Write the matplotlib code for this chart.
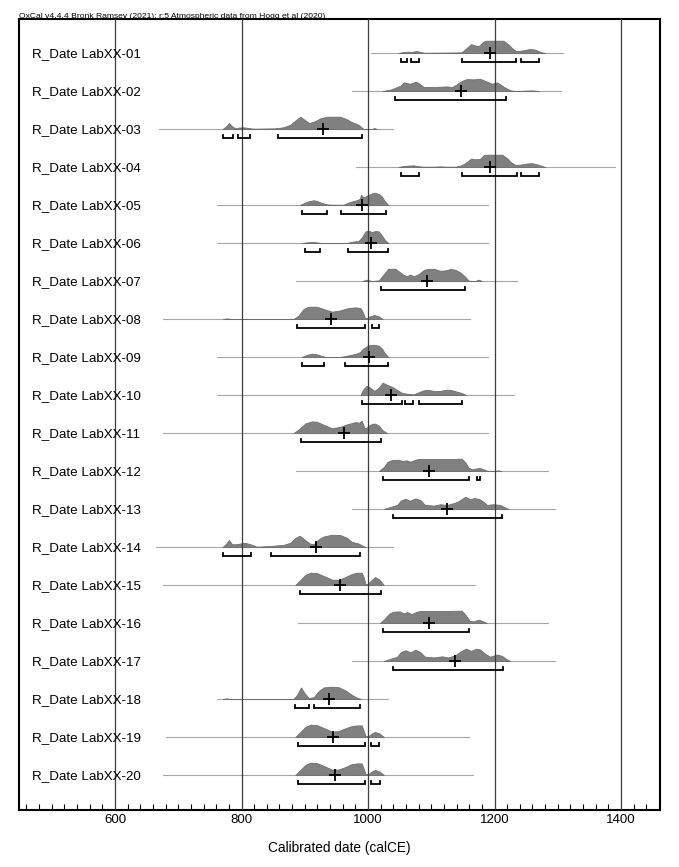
import matplotlib
matplotlib.use("Agg")
import matplotlib.pyplot as plt
import numpy as np
from matplotlib.ticker import MultipleLocator

plt.rcParams["font.family"] = ["Liberation Sans", "DejaVu Sans"]

title = "OxCal v4.4.4 Bronk Ramsey (2021); r:5 Atmospheric data from Hogg et al (2020)"
xlabel = "Calibrated date (calCE)"

labels = ["R_Date LabXX-01", "R_Date LabXX-02", "R_Date LabXX-03", "R_Date LabXX-04",
          "R_Date LabXX-05", "R_Date LabXX-06", "R_Date LabXX-07", "R_Date LabXX-08",
          "R_Date LabXX-09", "R_Date LabXX-10", "R_Date LabXX-11", "R_Date LabXX-12",
          "R_Date LabXX-13", "R_Date LabXX-14", "R_Date LabXX-15", "R_Date LabXX-16",
          "R_Date LabXX-17", "R_Date LabXX-18", "R_Date LabXX-19", "R_Date LabXX-20"]

# extent of the thin baseline (calibration range shown) for each date
span_start = [1005, 975, 670, 981, 761, 761, 886, 676, 761, 761,
              676, 886, 975, 665, 676, 890, 975, 761, 680, 676]
span_end = [1309, 1305, 1040, 1390, 1190, 1190, 1235, 1161, 1190, 1230,
            1190, 1285, 1295, 1040, 1169, 1285, 1295, 1031, 1160, 1166]

# mean of each distribution (the + sign)
means = [1193, 1147, 929, 1193, 991, 1005, 1093, 942, 1001, 1037,
         962, 1097, 1125, 917, 956, 1097, 1137, 939, 944, 947]

# 95.4% hpd ranges
hpd = [
    [(1052, 1061), (1068, 1080), (1149, 1234), (1242, 1270)],
    [(1042, 1218)],
    [(771, 787), (794, 813), (858, 991)],
    [(1052, 1081), (1148, 1235), (1242, 1270)],
    [(896, 935), (958, 1028)],
    [(901, 924), (968, 1031)],
    [(1021, 1153)],
    [(888, 996), (1007, 1018)],
    [(896, 930), (963, 1031)],
    [(990, 1054), (1059, 1071), (1080, 1149)],
    [(894, 1021)],
    [(1024, 1159), (1173, 1177)],
    [(1040, 1212)],
    [(771, 815), (847, 988)],
    [(892, 1020)],
    [(1024, 1159)],
    [(1040, 1214)],
    [(884, 906), (915, 987)],
    [(890, 995), (1005, 1017)],
    [(890, 995), (1004, 1019)],
]

# posterior probability curves (year, relative density)
curve_years = [
    [1048, 1056, 1064, 1069, 1076, 1081, 1088, 1106, 1148, 1156, 1163, 1169, 1175, 1182, 1187, 1214, 1222, 1228, 1234, 1242, 1249, 1256, 1264, 1273, 1280],
    [1022, 1035, 1046, 1052, 1056, 1061, 1067, 1075, 1080, 1088, 1104, 1114, 1125, 1133, 1140, 1148, 1156, 1167, 1177, 1183, 1191, 1196, 1204, 1209, 1217, 1225, 1235, 1246, 1259, 1270],
    [770, 776, 780, 785, 790, 795, 803, 811, 819, 853, 866, 877, 885, 893, 899, 907, 916, 924, 935, 956, 966, 974, 985, 993, 1006, 1010, 1014],
    [1048, 1056, 1064, 1072, 1077, 1087, 1104, 1114, 1125, 1138, 1148, 1156, 1163, 1169, 1177, 1183, 1188, 1212, 1220, 1225, 1233, 1241, 1251, 1259, 1267, 1275, 1280],
    [892, 898, 906, 914, 919, 927, 935, 943, 961, 969, 977, 982, 987, 989, 993, 998, 1006, 1011, 1017, 1022, 1027, 1032],
    [895, 903, 911, 919, 927, 967, 972, 980, 985, 990, 996, 1001, 1006, 1011, 1017, 1022, 1027, 1032],
    [991, 998, 1006, 1017, 1025, 1032, 1043, 1051, 1056, 1061, 1067, 1072, 1080, 1088, 1093, 1104, 1114, 1122, 1130, 1138, 1146, 1154, 1159, 1169, 1175, 1180],
    [771, 777, 784, 882, 890, 898, 906, 919, 930, 943, 956, 969, 980, 988, 992, 995, 998, 1003, 1010, 1017, 1023],
    [895, 903, 911, 919, 927, 934, 956, 964, 972, 980, 987, 993, 1001, 1009, 1017, 1022, 1027, 1032],
    [988, 993, 998, 1003, 1010, 1017, 1023, 1030, 1038, 1046, 1054, 1061, 1072, 1080, 1088, 1096, 1104, 1114, 1125, 1133, 1140, 1148, 1155],
    [882, 890, 901, 911, 919, 930, 943, 956, 964, 972, 980, 986, 990, 994, 997, 1003, 1010, 1017, 1023, 1030],
    [1017, 1025, 1031, 1038, 1048, 1054, 1061, 1067, 1075, 1080, 1109, 1130, 1148, 1154, 1159, 1164, 1172, 1177, 1183, 1188, 1198, 1206, 1210],
    [1025, 1035, 1046, 1052, 1059, 1066, 1075, 1083, 1090, 1104, 1114, 1125, 1135, 1143, 1154, 1162, 1167, 1175, 1182, 1188, 1198, 1209, 1215, 1222],
    [770, 776, 780, 785, 792, 798, 806, 814, 824, 835, 851, 866, 877, 885, 892, 899, 908, 914, 922, 930, 943, 956, 967, 974, 985, 992, 996],
    [885, 893, 901, 909, 919, 930, 943, 953, 964, 974, 982, 990, 993, 996, 999, 1006, 1011, 1018, 1025],
    [1019, 1027, 1034, 1040, 1050, 1056, 1062, 1069, 1077, 1083, 1114, 1148, 1154, 1161, 1167, 1175, 1183, 1188],
    [1025, 1035, 1046, 1052, 1059, 1067, 1075, 1083, 1090, 1104, 1117, 1127, 1138, 1146, 1155, 1163, 1171, 1177, 1185, 1193, 1204, 1212, 1218, 1225],
    [771, 776, 781, 882, 888, 894, 899, 906, 914, 922, 930, 943, 953, 964, 974, 982, 989],
    [885, 893, 901, 909, 919, 930, 943, 953, 964, 974, 982, 990, 993, 996, 1001, 1006, 1011, 1018, 1025],
    [885, 893, 901, 909, 919, 930, 943, 953, 964, 974, 982, 990, 993, 996, 1001, 1006, 1011, 1018, 1025],
]
curve_dens = [
    [0, 3, 4, 3, 6, 4, 1, 1, 2, 15, 26, 22, 20, 33, 36, 36, 25, 14, 6, 7, 9, 12, 10, 3, 0],
    [0, 4, 12, 17, 26, 24, 22, 28, 24, 12, 12, 13, 14, 12, 20, 30, 36, 35, 37, 32, 26, 22, 26, 20, 10, 2, 0, 1, 2, 0],
    [0, 8, 17, 8, 2, 4, 5, 3, 1, 2, 5, 12, 24, 35, 27, 17, 22, 30, 35, 35, 28, 20, 12, 0, 0, 3, 0],
    [0, 3, 4, 5, 3, 1, 1, 2, 1, 1, 5, 14, 24, 22, 23, 34, 35, 35, 25, 15, 6, 7, 10, 11, 8, 3, 0],
    [0, 5, 11, 14, 12, 6, 2, 1, 1, 7, 12, 14, 18, 30, 22, 27, 34, 36, 32, 25, 10, 0],
    [0, 2, 3, 2, 0, 0, 3, 5, 6, 16, 34, 36, 32, 35, 34, 22, 8, 0],
    [0, 4, 0, 2, 20, 36, 36, 25, 18, 14, 19, 14, 20, 32, 35, 36, 30, 31, 35, 33, 25, 12, 1, 0, 4, 0],
    [0, 2, 0, 0, 10, 30, 37, 37, 30, 22, 26, 33, 35, 33, 20, 3, 3, 8, 12, 8, 0],
    [0, 6, 10, 8, 3, 0, 0, 3, 6, 9, 14, 26, 34, 36, 33, 25, 10, 0],
    [0, 18, 27, 22, 12, 22, 36, 30, 24, 15, 6, 4, 2, 8, 14, 15, 12, 12, 16, 14, 10, 6, 0],
    [0, 10, 28, 34, 33, 24, 14, 18, 24, 28, 32, 30, 36, 16, 14, 24, 28, 22, 8, 0],
    [0, 12, 28, 33, 34, 30, 32, 28, 34, 36, 36, 36, 37, 25, 10, 5, 8, 9, 5, 1, 0, 2, 0],
    [0, 6, 12, 25, 30, 24, 31, 26, 12, 10, 14, 12, 17, 23, 36, 28, 32, 30, 22, 12, 14, 12, 6, 0],
    [0, 10, 20, 8, 8, 10, 12, 8, 1, 2, 4, 6, 12, 26, 32, 22, 10, 8, 22, 30, 35, 34, 26, 15, 10, 3, 0],
    [0, 14, 28, 34, 33, 25, 15, 14, 22, 30, 34, 34, 22, 3, 3, 14, 22, 15, 0],
    [0, 14, 28, 33, 34, 28, 32, 26, 33, 35, 35, 36, 24, 6, 5, 10, 4, 0],
    [0, 6, 12, 25, 30, 24, 31, 24, 12, 10, 13, 10, 16, 26, 34, 28, 34, 32, 20, 12, 18, 14, 6, 0],
    [0, 2, 0, 0, 12, 32, 18, 3, 5, 22, 32, 34, 33, 24, 12, 4, 0],
    [0, 14, 28, 34, 33, 25, 15, 16, 24, 30, 32, 32, 18, 3, 3, 10, 14, 10, 0],
    [0, 14, 28, 34, 33, 25, 15, 15, 22, 30, 32, 32, 18, 3, 3, 10, 14, 10, 0],
]

peak_h = 0.325      # height of the tallest point, in row units
br_off = 0.23       # bracket offset below baseline
br_tick = 0.075

fig = plt.figure(figsize=(6.79, 8.67), dpi=100)
ax = fig.add_axes([0.02725, 0.06574, 0.9455, 0.9123])

for i in range(len(labels)):
    y0 = -i
    ax.plot([span_start[i], span_end[i]], [y0, y0], color="#a6a6a6", lw=0.8, zorder=2)
    yrs = np.array(curve_years[i], dtype=float)
    d = np.array(curve_dens[i], dtype=float)
    h = d / d.max() * peak_h
    ax.fill_between(yrs, y0, y0 + h, facecolor="#808080", edgecolor="#6e6e6e", lw=0.6, zorder=3)
    ax.plot(means[i], y0, marker="+", color="black", ms=8, mew=1.3, zorder=5)
    yb = y0 - br_off
    for a, b in hpd[i]:
        ax.plot([a, a, b, b], [yb + br_tick, yb, yb, yb + br_tick], color="black", lw=1.3,
                solid_joinstyle="miter", zorder=5)
    ax.text(469, y0 - 0.118, labels[i], fontsize=9.6, ha="left", va="baseline", zorder=6)

for g in [600, 800, 1000, 1200, 1400]:
    ax.axvline(g, color="#3c3c3c", lw=0.9, zorder=4)

ax.set_xlim(447.4, 1462.4)
ax.set_ylim(-19.92, 0.895)
ax.set_yticks([])
ax.xaxis.set_major_locator(MultipleLocator(200))
ax.xaxis.set_minor_locator(MultipleLocator(20))
ax.tick_params(axis="x", which="major", length=0, pad=3, labelsize=9.5)
ax.tick_params(axis="x", which="minor", direction="in", length=4, width=0.8)
for s in ax.spines.values():
    s.set_linewidth(1.5)
ax.set_xlabel(xlabel, fontsize=9.8, labelpad=11)

fig.text(19 / 679, 1 - 18 / 867, title, fontsize=6.1, ha="left", va="baseline")

fig.savefig("out.png", dpi=100)
